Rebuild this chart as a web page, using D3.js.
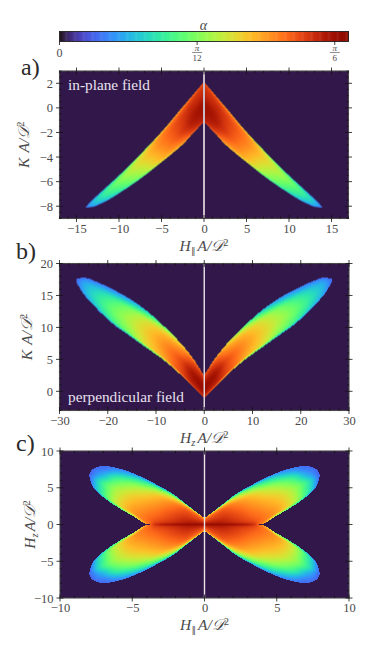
<!DOCTYPE html>
<html lang="en">
<head>
  <meta charset="UTF-8">
  <title>Anisotropy maps</title>
  <script src="https://d3js.org/d3.v7.min.js"></script>
  <style>
    html, body { margin: 0; padding: 0; background: #fff; }
    svg { display: block; }
    text { font-family: "Liberation Serif", serif; fill: #4a4a4a; }
    .tick text { font-size: 12.5px; font-family: "Liberation Serif", serif; fill: #4a4a4a; }
    .axis-label { font-size: 15.5px; font-style: italic; }
    .panel-letter { font-size: 24px; fill: #2a2a2a; }
    .note { font-size: 15.3px; fill: #e8e2ee; }
    .spine { fill: none; stroke: #4a4a4a; stroke-width: 1.1; }
  </style>
</head>
<body>
  <svg id="viz" width="374" height="654"></svg>

  <script>
    // fractions across a lobe where the alpha columns below were read, upper edge to lower edge
    const across = [0, 0.08, 0.3, 0.6, 0.92, 1];

    // panel a, in-plane field, right lobe (alpha in degrees)
    const aX = [0, 1.3, 2.5, 4.8, 7.2, 9.55, 11.9, 13.3, 13.95];
    const aUpper = [2.13, 1.06, 0.09, -1.8, -3.57, -5.2, -6.7, -7.6, -8.1];
    const aLower = [-1.13, -2.07, -2.97, -4.3, -5.62, -6.75, -7.72, -8.08, -8.1];
    const aAlpha = [
      [26, 27, 28, 30, 29, 27],
      [24, 26.5, 28, 29, 27, 24],
      [22, 25.5, 27, 27, 24, 21],
      [19, 23.5, 24, 23, 21, 18],
      [13, 19, 19.5, 18, 15.5, 11],
      [9, 14, 15.5, 14, 11.5, 8],
      [6, 9, 11, 10, 7.5, 5.5],
      [4.5, 5.5, 7, 7, 5.5, 4.5],
      [4, 4, 4, 4, 4, 4]
    ];

    // panel b, perpendicular field, right lobe
    const bX = [0, 2.2, 5, 8.4, 11.9, 15.3, 18.8, 22.2, 25, 26.5];
    const bUpper = [2.45, 5.05, 7.66, 10.26, 12.6, 14.43, 15.9, 17.1, 17.8, 17.6];
    const bLower = [-1.05, 0.6, 2.7, 4.9, 6.77, 8.6, 10.47, 12.86, 15.2, 17.0];
    const bAlpha = [
      [25, 27, 29, 30.5, 28, 26],
      [22, 25, 27.5, 29.5, 28, 24],
      [18, 21, 24, 26, 26, 20],
      [12, 17, 21.5, 23, 22, 15],
      [8, 12, 18.5, 20, 19, 11],
      [6, 8.5, 15, 17, 15, 8],
      [5, 7, 12, 14, 12, 6.5],
      [4.5, 6, 9, 10.5, 9, 5.5],
      [4, 5, 6.5, 7, 6.5, 5],
      [4, 4, 4, 4, 4, 4]
    ];

    // panel c, one quarter lobe
    const cX = [0, 1.06, 2.22, 3.38, 3.77, 5.1, 6.27, 7.0, 7.43, 7.78, 8.0];
    const cUpper = [0.86, 2.45, 4.2, 5.5, 5.9, 7.1, 7.8, 8.0, 7.8, 7.45, 6.77];
    const cLower = [0, 0, 0, 0, 0, 1.32, 2.68, 3.7, 4.5, 5.3, 6.77];
    const cAlpha = [
      [20, 23, 25, 27, 29.5, 31],
      [10, 21, 25.5, 27, 29, 30.5],
      [8, 16, 23, 25.5, 27.5, 29.5],
      [6, 13, 20.5, 23.5, 26, 27.5],
      [6, 12, 19.5, 23, 25, 25],
      [5, 8.5, 15.5, 20, 22, 15],
      [4.5, 6, 11.5, 16, 17, 11],
      [4, 4.5, 7.5, 12, 12, 8],
      [4, 4.5, 6, 9, 9, 6],
      [3.5, 4, 4.5, 5.5, 5.5, 4],
      [3.5, 3.5, 3.5, 3.5, 3.5, 3.5]
    ];

    const alphaMax = 31.5;
    const background = "#32184a";
    const barTickValues = [0, 15, 30];

    const svg = d3.select("#viz");
    const color = d3.scaleSequential(d3.interpolateTurbo).domain([0, alphaMax]);

    const panels = [
      { letter: "a)", letterX: 21, letterY: 75, box: [59.5, 71, 348.5, 218.5], xlim: 17, ylim: [-9, 3],
        xMajor: d3.range(-15, 16, 5), xMinor: d3.range(-17, 18, 1),
        yMajor: d3.range(-8, 3, 2), yMinor: d3.range(-9, 3.01, 0.5),
        xs: aX, upper: aUpper, lower: aLower, alpha: aAlpha, flips: [[1, 1], [-1, 1]], cell: 0.5,
        yLabel: "K", yLabelX: 29, xLabel: "par", zero: ["#c8bcc8", 2] },
      { letter: "b)", letterX: 16, letterY: 259, box: [59.5, 263.5, 349, 410.5], xlim: 30, ylim: [-3, 20],
        xMajor: d3.range(-30, 31, 10), xMinor: d3.range(-30, 31, 2),
        yMajor: d3.range(0, 21, 5), yMinor: d3.range(-3, 20.01, 1),
        xs: bX, upper: bUpper, lower: bLower, alpha: bAlpha, flips: [[1, 1], [-1, 1]], cell: 1,
        yLabel: "K", yLabelX: 32, xLabel: "z", zero: ["#e8e4e8", 1.4] },
      { letter: "c)", letterX: 16, letterY: 451, box: [60, 451, 349, 598], xlim: 10, ylim: [-10, 10],
        xMajor: d3.range(-10, 11, 5), xMinor: d3.range(-10, 11, 1),
        yMajor: d3.range(-10, 11, 5), yMinor: d3.range(-10, 11, 1),
        xs: cX, upper: cUpper, lower: cLower, alpha: cAlpha, cell: 1,
        flips: [[1, 1], [-1, 1], [1, -1], [-1, -1]], yLabel: "z", yLabelX: 35, xLabel: "par", zero: ["#e8e4e8", 1.4] }
    ];

    // smooth curve through read values, keeps flat runs flat and does not overshoot
    function smooth(xs, ys) {
      const sec = d3.pairs(xs).map(([a, b], i) => (ys[i + 1] - ys[i]) / (b - a));
      const tan = xs.map((_, i) => {
        if (i === 0) return sec[0];
        if (i === xs.length - 1) return sec[i - 1];
        const a = sec[i - 1], b = sec[i];
        return a * b <= 0 ? 0 : 2 * a * b / (a + b);
      });
      return v => {
        const i = Math.min(xs.length - 2, Math.max(0, d3.bisectRight(xs, v) - 1));
        if (sec[i] === 0) return ys[i];
        const h = xs[i + 1] - xs[i], t = (v - xs[i]) / h;
        const t2 = t * t, t3 = t2 * t;
        return (2 * t3 - 3 * t2 + 1) * ys[i] + (t3 - 2 * t2 + t) * h * tan[i]
          + (-2 * t3 + 3 * t2) * ys[i + 1] + (t3 - t2) * h * tan[i + 1];
      };
    }

    // one label piece: "H_par A / D^2" style math label
    function mathLabel(g, base, sub) {
      const t = g.append("text").attr("class", "axis-label").attr("text-anchor", "middle");
      t.append("tspan").text(base);
      if (sub === "\u2225") {
        t.append("tspan").attr("dy", 3).attr("dx", 0.5)
          .style("font-size", "9px").style("font-style", "normal")
          .style("font-family", "'DejaVu Sans'").text(sub);
      } else if (sub) {
        t.append("tspan").attr("dy", 3).style("font-size", "10.5px").text(sub);
      }
      t.append("tspan").attr("dy", sub ? -3 : 0).attr("dx", 2).text("A/\uD835\uDC9F");
      t.append("tspan").attr("dy", -5).style("font-size", "10.5px").style("font-style", "normal").text("2");
      return t;
    }

    function fieldLabel(g, name) {
      if (name === "par") return mathLabel(g, "H", "\u2225");
      if (name === "z") return mathLabel(g, "H", "z");
      return mathLabel(g, "K\u2009", null);
    }

    panels.forEach(p => {
      const [x0, y0, x1, y1] = p.box;
      const x = d3.scaleLinear().domain([-p.xlim, p.xlim]).range([x0, x1]);
      const y = d3.scaleLinear().domain(p.ylim).range([y1, y0]);
      const g = svg.append("g");

      g.append("rect").attr("x", x0).attr("y", y0)
        .attr("width", x1 - x0).attr("height", y1 - y0).attr("fill", background);

      const upperAt = smooth(p.xs, p.upper);
      const lowerAt = smooth(p.xs, p.lower);
      const columns = across.map((_, k) => smooth(p.xs, p.alpha.map(row => row[k])));
      const xEnd = p.xs[p.xs.length - 1];

      // raster of the alpha map, like an image plot, then placed as an svg image
      const cols = Math.round((x1 - x0) / p.cell), rows = Math.round((y1 - y0) / p.cell);
      const canvas = d3.create("canvas").attr("width", cols).attr("height", rows).node();
      const ctx = canvas.getContext("2d");
      for (let i = 0; i < cols; i++) {
        const xv = x.invert(x0 + (i + 0.5) * p.cell);
        if (Math.abs(xv) > xEnd) continue;
        const ax = Math.abs(xv);
        const up = upperAt(ax), lo = lowerAt(ax);
        const profile = smooth(across, columns.map(c => c(ax)));
        for (let j = 0; j < rows; j++) {
          const yv = y.invert(y0 + (j + 0.5) * p.cell);
          p.flips.filter(([sx]) => sx * xv >= 0).forEach(([, sy]) => {
            const f = (up - sy * yv) / (up - lo);
            if (f < 0 || f > 1) return;
            ctx.fillStyle = color(profile(f));
            ctx.fillRect(i, j, 1, 1);
          });
        }
      }
      g.append("image").attr("href", canvas.toDataURL()).attr("x", x0).attr("y", y0)
        .attr("width", x1 - x0).attr("height", y1 - y0).attr("preserveAspectRatio", "none");

      // white line through zero field
      g.append("line").attr("x1", x(0)).attr("x2", x(0)).attr("y1", y0).attr("y2", y1)
        .attr("stroke", p.zero[0]).attr("stroke-width", p.zero[1]);

      g.append("rect").attr("class", "spine").attr("x", x0).attr("y", y0)
        .attr("width", x1 - x0).attr("height", y1 - y0);

      // major ticks straddle the frame, minor ticks point inward
      const ticks = (vals, horizontal, at, a, b) => {
        g.selectAll(null).data(vals).enter().append("line")
          .attr("x1", d => horizontal ? x(d) : at + a)
          .attr("x2", d => horizontal ? x(d) : at + b)
          .attr("y1", d => horizontal ? at + a : y(d))
          .attr("y2", d => horizontal ? at + b : y(d))
          .attr("stroke", "#111").attr("stroke-width", 0.8);
      };
      const xm = p.xMinor.filter(v => !p.xMajor.includes(v));
      const ym = p.yMinor.filter(v => !p.yMajor.includes(v));
      ticks(xm, true, y0, 0, 2);
      ticks(xm, true, y1, -2, 0);
      ticks(ym, false, x0, 0, 2);
      ticks(ym, false, x1, -2, 0);
      ticks(p.xMajor, true, y0, -3.5, 3.5);
      ticks(p.xMajor, true, y1, -3.5, 3.5);
      ticks(p.yMajor, false, x0, -3.5, 3.5);
      ticks(p.yMajor, false, x1, -3.5, 3.5);

      // tick labels from library axes
      const xAxis = g.append("g").attr("transform", `translate(0,${y1})`)
        .call(d3.axisBottom(x).tickValues(p.xMajor).tickSize(0).tickPadding(5.5).tickFormat(d3.format("d")));
      const yAxis = g.append("g").attr("transform", `translate(${x0},0)`)
        .call(d3.axisLeft(y).tickValues(p.yMajor).tickSize(0).tickPadding(6.5).tickFormat(d3.format("d")));
      xAxis.select(".domain").remove();
      yAxis.select(".domain").remove();

      fieldLabel(g.append("g").attr("transform", `translate(${(x0 + x1) / 2},${y1 + 32})`), p.xLabel);
      fieldLabel(g.append("g").attr("transform", `translate(${p.yLabelX},${(y0 + y1) / 2}) rotate(-90)`), p.yLabel);

      g.append("text").attr("class", "panel-letter").attr("x", p.letterX).attr("y", p.letterY).text(p.letter);
    });

    svg.append("text").attr("class", "note").attr("x", 68).attr("y", 90).text("in-plane field");
    svg.append("text").attr("class", "note").attr("x", 68).attr("y", 402).text("perpendicular field");

    // colour bar
    const barX = d3.scaleLinear().domain([0, alphaMax]).range([59.5, 348.5]);
    const bar = svg.append("g");
    bar.selectAll(null).data(d3.range(0, alphaMax, alphaMax / 256)).enter().append("rect")
      .attr("x", d => barX(d)).attr("y", 31.5).attr("height", 10)
      .attr("width", (barX(alphaMax) - barX(0)) / 256 + 0.5).attr("fill", d => color(d));
    bar.append("rect").attr("x", 59.5).attr("y", 31.5).attr("width", 289).attr("height", 10)
      .attr("fill", "none").attr("stroke", "#222").attr("stroke-width", 0.9);
    bar.selectAll(null).data(barTickValues).enter().append("line")
      .attr("x1", d => barX(d)).attr("x2", d => barX(d)).attr("y1", 41.5).attr("y2", 45)
      .attr("stroke", "#111").attr("stroke-width", 0.8);
    bar.append("text").attr("x", 203.5).attr("y", 30).attr("text-anchor", "middle")
      .style("font-size", "14px").style("font-style", "italic").text("\u03B1");
    bar.append("text").attr("x", barX(0)).attr("y", 56.5).attr("text-anchor", "middle").style("font-size", "12px").text("0");
    [[15, "12"], [30, "6"]].forEach(([v, den]) => {
      bar.append("text").attr("x", barX(v)).attr("y", 51).attr("text-anchor", "middle")
        .style("font-size", "9px").style("font-style", "italic").text("\u03C0");
      bar.append("line").attr("x1", barX(v) - 5).attr("x2", barX(v) + 5).attr("y1", 52.5).attr("y2", 52.5)
        .attr("stroke", "#444").attr("stroke-width", 0.6);
      bar.append("text").attr("x", barX(v)).attr("y", 60.5).attr("text-anchor", "middle")
        .style("font-size", "9px").text(den);
    });
  </script>
</body>
</html>
